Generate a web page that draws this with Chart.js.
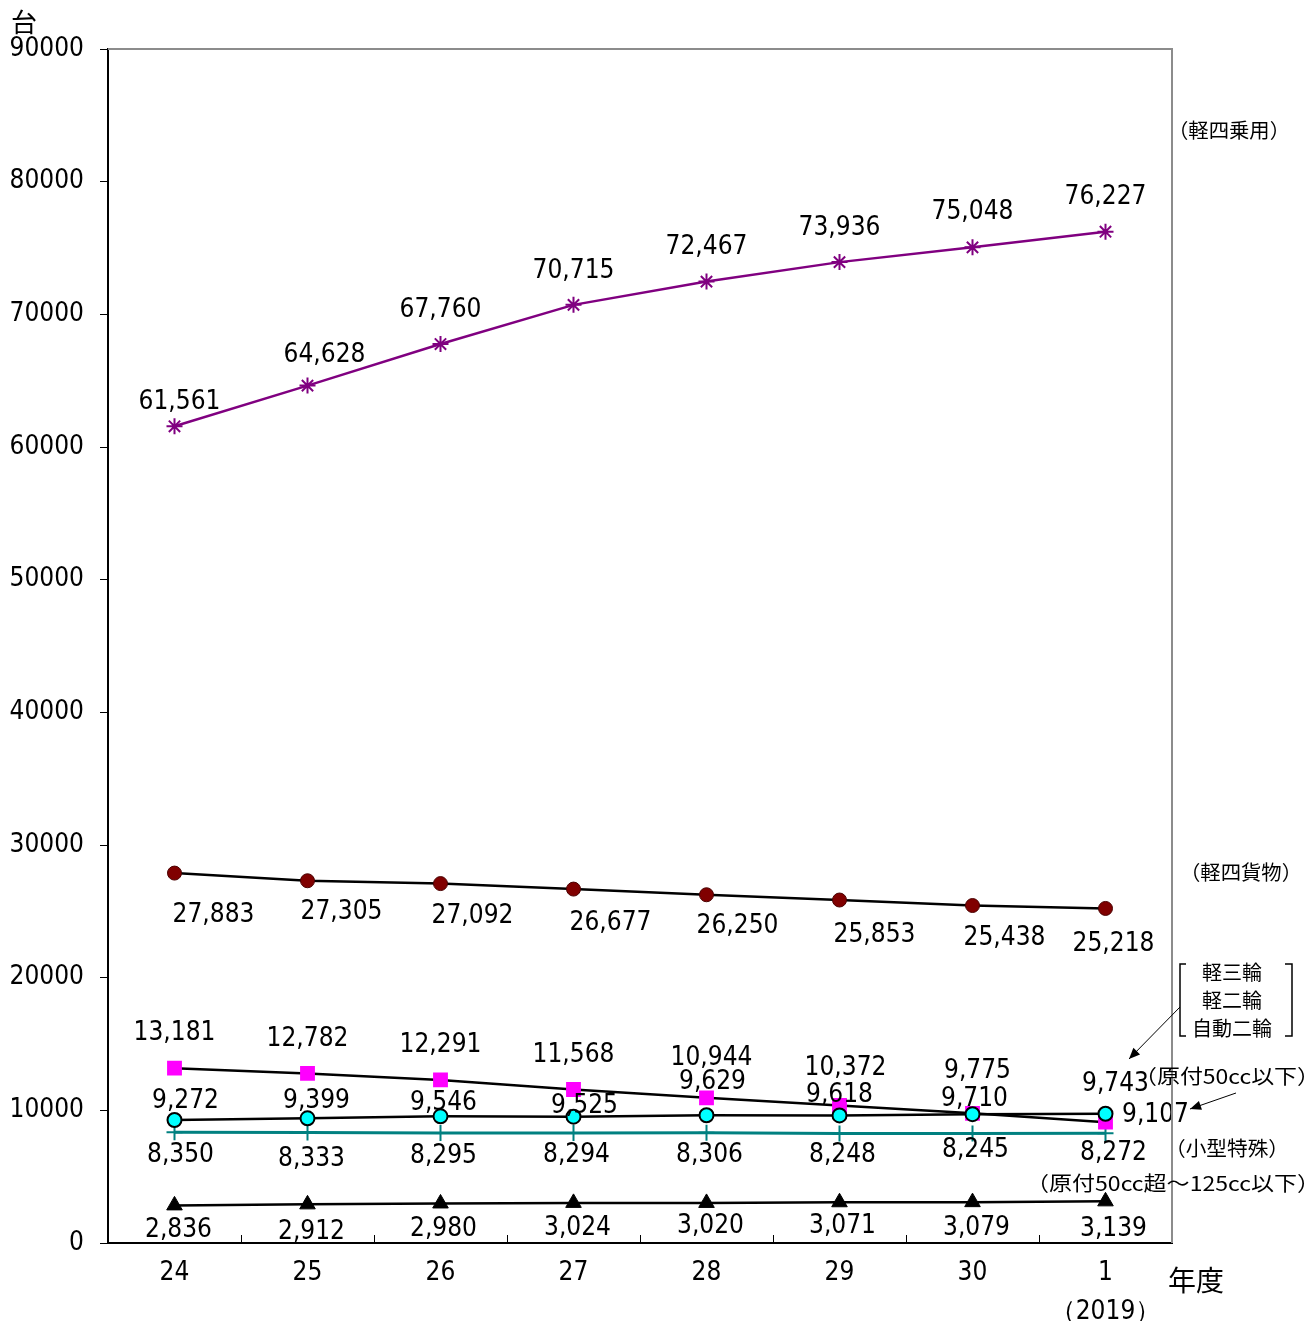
<!DOCTYPE html>
<html>
<head>
<meta charset="utf-8">
<script src="https://cdn.jsdelivr.net/npm/chart.js@4.4.1/dist/chart.umd.min.js"></script>
<style>
  body { margin: 0; background: #fff; }
  #wrap { width: 1306px; height: 1321px; }
</style>
</head>
<body>
<div id="wrap"><canvas id="myChart" width="1306" height="1321"></canvas></div>
<script>
// 年度
const years = ["24", "25", "26", "27", "28", "29", "30", ["1", "（2019）"]];

// 課税台数
const keiYonJoyo = [61561, 64628, 67760, 70715, 72467, 73936, 75048, 76227];
const keiYonKamotsu = [27883, 27305, 27092, 26677, 26250, 25853, 25438, 25218];
const nirinSanrin = [13181, 12782, 12291, 11568, 10944, 10372, 9775, 9107];
const gentsuki50 = [9272, 9399, 9546, 9525, 9629, 9618, 9710, 9743];
const kogataTokushu = [8350, 8333, 8295, 8294, 8306, 8248, 8245, 8272];
const gentsuki125 = [2836, 2912, 2980, 3024, 3020, 3071, 3079, 3139];

const yTicks = [0, 10000, 20000, 30000, 40000, 50000, 60000, 70000, 80000, 90000];

// label offsets from each point (px)
const offJoyo = [[5,-27],[17,-33],[0,-37],[0,-37],[0,-37],[0,-37],[0,-38],[0,-37]];
const offKamotsu = [[39,39],[34,28],[32,30],[37,31],[31,28],[35,32],[32,30],[8,33]];
const offNirin = [[0,-38],[0,-37],[0,-38],[0,-37],[5,-43],[6,-40],[5,-45],[50,-10]];
const offGen50 = [[11,-22],[9,-20],[3,-16],[11,-13],[6,-36],[0,-23],[2,-18],[10,-32]];
const offKogata = [[6,20],[4,24],[3,20],[3,19],[3,19],[3,19],[3,14],[8,17]];
const offGen125 = [[4,22],[4,25],[3,23],[4,22],[4,20],[3,21],[4,23],[8,25]];

const numFont = '26px "DejaVu Sans Condensed", "DejaVu Sans", sans-serif';
const jpFont = '"Noto Sans CJK JP", sans-serif';

const valueLabels = {
  id: "valueLabels",
  afterDatasetsDraw(chart) {
    const ctx = chart.ctx;
    ctx.save();
    ctx.font = numFont;
    ctx.fillStyle = "#000";
    ctx.textAlign = "center";
    ctx.textBaseline = "middle";
    chart.data.datasets.forEach((ds, i) => {
      const meta = chart.getDatasetMeta(i);
      meta.data.forEach((pt, j) => {
        const o = ds.labelOffsets[j];
        ctx.fillText(ds.data[j].toLocaleString("en-US"), pt.x + o[0], pt.y + o[1] + 3);
      });
    });
    ctx.restore();
  }
};

function arrow(ctx, x1, y1, x2, y2) {
  ctx.beginPath();
  ctx.moveTo(x1, y1);
  ctx.lineTo(x2, y2);
  ctx.stroke();
  const a = Math.atan2(y2 - y1, x2 - x1);
  const L = 12, W = 0.4;
  ctx.beginPath();
  ctx.moveTo(x2, y2);
  ctx.lineTo(x2 - L * Math.cos(a - W), y2 - L * Math.sin(a - W));
  ctx.lineTo(x2 - L * Math.cos(a + W), y2 - L * Math.sin(a + W));
  ctx.closePath();
  ctx.fill();
}

// draw text stretched to a given width, left edge at x
function note(ctx, text, x, y, w) {
  const m = ctx.measureText(text).width;
  ctx.save();
  ctx.translate(x, y);
  ctx.scale(w / m, 1);
  ctx.fillText(text, 0, 0);
  ctx.restore();
}

const frameAndNotes = {
  id: "frameAndNotes",
  afterDraw(chart) {
    const ctx = chart.ctx;
    const a = chart.chartArea;
    const xs = chart.scales.x;
    ctx.save();
    // gray top / right frame
    ctx.strokeStyle = "#8c8c8c";
    ctx.lineWidth = 2;
    ctx.beginPath();
    ctx.moveTo(a.left, a.top);
    ctx.lineTo(a.right, a.top);
    ctx.lineTo(a.right, a.bottom);
    ctx.stroke();
    // inner tick marks between categories
    ctx.strokeStyle = "#000";
    ctx.lineWidth = 1;
    for (let i = 1; i < years.length; i++) {
      const x = Math.round((xs.getPixelForValue(i - 1) + xs.getPixelForValue(i)) / 2) + 0.5;
      ctx.beginPath();
      ctx.moveTo(x, a.bottom);
      ctx.lineTo(x, a.bottom - 8);
      ctx.stroke();
    }
    // unit and axis title
    ctx.fillStyle = "#000";
    ctx.textBaseline = "middle";
    ctx.textAlign = "left";
    ctx.font = "26px " + jpFont;
    ctx.fillText("台", 11, 22);
    ctx.font = "28px " + jpFont;
    ctx.fillText("年度", a.right - 4, 1280);

    // series notes
    ctx.font = "20px " + jpFont;
    const R = a.right;
    note(ctx, "（軽四乗用）", R - 4, 130, 122);
    note(ctx, "（軽四貨物）", R + 8, 872, 122);
    ctx.textAlign = "center";
    ctx.fillText("軽三輪", R + 60, 972);
    ctx.fillText("軽二輪", R + 60, 1000);
    ctx.fillText("自動二輪", R + 60, 1028);
    ctx.textAlign = "left";
    note(ctx, "（原付50cc以下）", R - 38, 1076, 186);
    note(ctx, "（小型特殊）", R - 7, 1148, 124);
    note(ctx, "（原付50cc超～125cc以下）", R - 146, 1183, 294);

    // brackets
    ctx.lineWidth = 1.5;
    ctx.beginPath();
    ctx.moveTo(R + 14, 964); ctx.lineTo(R + 8, 964); ctx.lineTo(R + 8, 1036); ctx.lineTo(R + 14, 1036);
    ctx.moveTo(R + 113, 964); ctx.lineTo(R + 120, 964); ctx.lineTo(R + 120, 1036); ctx.lineTo(R + 113, 1036);
    ctx.stroke();
    // arrows
    ctx.lineWidth = 1;
    arrow(ctx, R + 8, 1007, R - 43, 1059);
    arrow(ctx, R + 64, 1093, R + 18, 1109);
    ctx.restore();
  }
};

const ctx = document.getElementById("myChart").getContext("2d");
new Chart(ctx, {
  type: "line",
  data: {
    labels: years,
    datasets: [
      {
        label: "軽四乗用",
        data: keiYonJoyo,
        labelOffsets: offJoyo,
        borderColor: "#800080",
        borderWidth: 2.5,
        pointStyle: "star",
        pointRadius: 8,
        pointBorderColor: "#800080",
        pointBorderWidth: 2,
      },
      {
        label: "軽四貨物",
        data: keiYonKamotsu,
        labelOffsets: offKamotsu,
        borderColor: "#000",
        borderWidth: 2.5,
        pointStyle: "circle",
        pointRadius: 7,
        pointBackgroundColor: "#800000",
        pointBorderColor: "#4a0000",
        pointBorderWidth: 1,
      },
      {
        label: "原付50cc以下",
        data: gentsuki50,
        labelOffsets: offGen50,
        borderColor: "#000",
        borderWidth: 2.5,
        pointStyle: "circle",
        pointRadius: 7,
        pointBackgroundColor: "#00ffff",
        pointBorderColor: "#000",
        pointBorderWidth: 2,
      },
      {
        label: "軽三輪・軽二輪・自動二輪",
        data: nirinSanrin,
        labelOffsets: offNirin,
        borderColor: "#000",
        borderWidth: 2.5,
        pointStyle: "rect",
        pointRadius: 10.5,
        pointBackgroundColor: "#ff00ff",
        pointBorderColor: "#ff00ff",
        pointBorderWidth: 0,
      },
      {
        label: "小型特殊",
        data: kogataTokushu,
        labelOffsets: offKogata,
        borderColor: "#008080",
        borderWidth: 3,
        pointStyle: "cross",
        pointRadius: 8,
        pointBorderColor: "#008080",
        pointBorderWidth: 2,
      },
      {
        label: "原付50cc超～125cc以下",
        data: gentsuki125,
        labelOffsets: offGen125,
        borderColor: "#000",
        borderWidth: 2.5,
        pointStyle: "triangle",
        pointRadius: 9,
        pointBackgroundColor: "#000",
        pointBorderColor: "#000",
        pointBorderWidth: 1,
      },
    ],
  },
  options: {
    responsive: false,
    animation: false,
    events: [],
    layout: { padding: { top: 49, right: 134, left: 0, bottom: 0 } },
    plugins: {
      legend: { display: false },
      tooltip: { enabled: false },
    },
    scales: {
      x: {
        offset: true,
        grid: { display: false },
        border: { color: "#000", width: 2 },
        ticks: {
          color: "#000",
          font: { family: "DejaVu Sans Condensed", size: 26, lineHeight: 1.5 },
          padding: 3,
          maxRotation: 0,
          autoSkip: false,
        },
        afterFit: (s) => { s.height = 78; },
      },
      y: {
        min: 0,
        max: 90000,
        afterBuildTicks: (s) => { s.ticks = yTicks.map((v) => ({ value: v })); },
        grid: { drawOnChartArea: false, drawTicks: true, tickLength: 8, color: "#000", lineWidth: 1 },
        border: { color: "#000", width: 2 },
        ticks: {
          color: "#000",
          font: { family: "DejaVu Sans Condensed", size: 26 },
          padding: 16,
          callback: (v) => String(v),
        },
        afterFit: (s) => { s.width = 108; },
      },
    },
  },
  plugins: [valueLabels, frameAndNotes],
});
</script>
</body>
</html>
